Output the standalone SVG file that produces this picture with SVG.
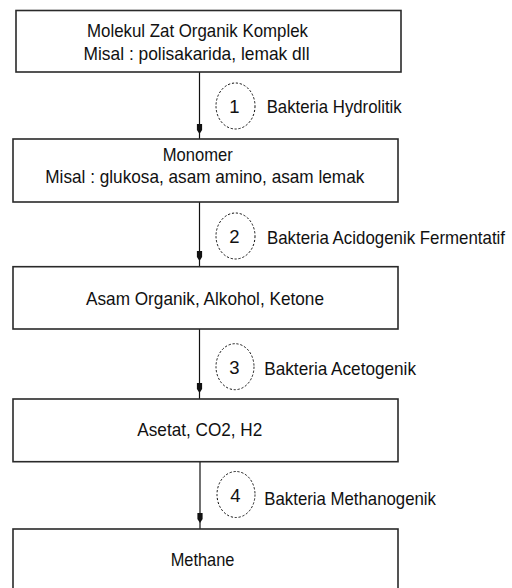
<svg xmlns="http://www.w3.org/2000/svg" width="512" height="588" viewBox="0 0 512 588">
<style>
.box{fill:#fff;stroke:#2a2a2a;stroke-width:1.6}
.t{font-family:"Liberation Sans",Arial,sans-serif;font-size:18.5px;fill:#111}
.line{stroke:#111;stroke-width:1.2;fill:none}
.step{fill:#fff;stroke:#111;stroke-width:1;stroke-dasharray:2.2 1.8}
</style>
<defs>
<path id="ah" d="M-2.6,-10 L2.6,-10 L2.6,-4 L0,0 L-2.6,-4 Z" fill="#111"/>
</defs>
<rect width="512" height="588" fill="#fff"/>
<g id="connectors">
<line class="line" x1="199.5" y1="72" x2="199.5" y2="139"/>
<use href="#ah" x="199.5" y="134"/>
<line class="line" x1="199.5" y1="202" x2="199.5" y2="266.7"/>
<use href="#ah" x="199.5" y="261"/>
<line class="line" x1="199.5" y1="329" x2="199.5" y2="399"/>
<use href="#ah" x="199.5" y="393"/>
<line class="line" x1="200" y1="461.7" x2="200" y2="529"/>
<use href="#ah" x="200" y="523"/>
</g>
<g id="node1">
<rect class="box" x="16" y="10.5" width="385" height="61.5"/>
<text class="t" x="87" y="37.3" textLength="221" lengthAdjust="spacingAndGlyphs">Molekul Zat Organik Komplek</text>
<text class="t" x="83.5" y="59.7" textLength="226" lengthAdjust="spacingAndGlyphs">Misal : polisakarida, lemak dll</text>
</g>
<g id="node2">
<rect class="box" x="13" y="139" width="385" height="63"/>
<text class="t" x="162.7" y="160.7" textLength="70" lengthAdjust="spacingAndGlyphs">Monomer</text>
<text class="t" x="45.3" y="182.7" textLength="319" lengthAdjust="spacingAndGlyphs">Misal : glukosa, asam amino, asam lemak</text>
</g>
<g id="node3">
<rect class="box" x="13" y="266.7" width="385" height="62.3"/>
<text class="t" x="86" y="305" textLength="238" lengthAdjust="spacingAndGlyphs">Asam Organik, Alkohol, Ketone</text>
</g>
<g id="node4">
<rect class="box" x="13" y="399" width="385" height="62.7"/>
<text class="t" x="137.3" y="435.7" textLength="125" lengthAdjust="spacingAndGlyphs">Asetat, CO2, H2</text>
</g>
<g id="node5">
<rect class="box" x="13" y="529" width="385" height="80"/>
<text class="t" x="170.7" y="566" textLength="63.7" lengthAdjust="spacingAndGlyphs">Methane</text>
</g>
<g id="step1">
<ellipse class="step" cx="235.5" cy="106" rx="19.5" ry="23"/>
<text class="t" x="234.5" y="113" text-anchor="middle">1</text>
<text class="t" x="266.7" y="113.3" textLength="135" lengthAdjust="spacingAndGlyphs">Bakteria Hydrolitik</text>
</g>
<g id="step2">
<ellipse class="step" cx="235.5" cy="236" rx="19.5" ry="23"/>
<text class="t" x="234.5" y="243" text-anchor="middle">2</text>
<text class="t" x="267" y="244" textLength="238" lengthAdjust="spacingAndGlyphs">Bakteria Acidogenik Fermentatif</text>
</g>
<g id="step3">
<ellipse class="step" cx="235" cy="366.7" rx="19" ry="23"/>
<text class="t" x="234.5" y="374" text-anchor="middle">3</text>
<text class="t" x="264.3" y="375" textLength="151.7" lengthAdjust="spacingAndGlyphs">Bakteria Acetogenik</text>
</g>
<g id="step4">
<ellipse class="step" cx="236" cy="494.5" rx="19" ry="23"/>
<text class="t" x="235.5" y="502" text-anchor="middle">4</text>
<text class="t" x="264.3" y="505" textLength="171.7" lengthAdjust="spacingAndGlyphs">Bakteria Methanogenik</text>
</g>
</svg>
